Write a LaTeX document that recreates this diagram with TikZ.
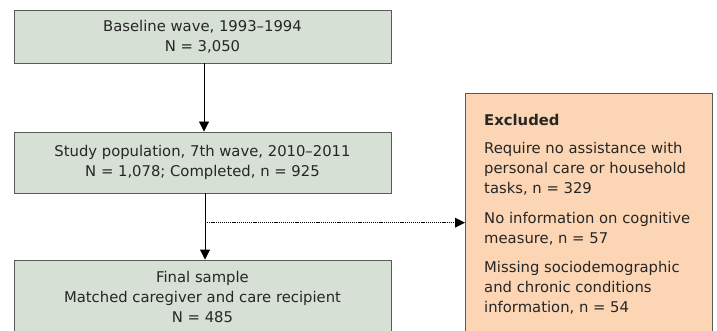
\documentclass[tikz,border=0pt]{standalone}
\usepackage{fontspec}
\setmainfont{DejaVu Sans}
\usetikzlibrary{arrows.meta}
\definecolor{boxgreen}{HTML}{D6E0D5}
\definecolor{boxorange}{HTML}{FCD6B4}
\definecolor{edge}{HTML}{5A5A5A}
\begin{document}
\begin{tikzpicture}[x=1pt,y=-1pt,
  font=\fontsize{14.8}{20}\selectfont,
  gbox/.style={draw=edge,fill=boxgreen,line width=0.9pt,minimum width=377pt,inner sep=0pt,align=center,text=black!85},
  obox/.style={draw=edge,fill=boxorange,line width=0.9pt,minimum width=247pt,minimum height=252pt,inner sep=0pt,anchor=north west},
  conn/.style={line width=0.9pt,-{Triangle[length=10pt,width=10pt]}},
  dconn/.style={line width=1.4pt,dash pattern=on 1.2pt off 0.9pt,-{Triangle[length=10pt,width=10pt,line width=0pt]}}]
\useasboundingbox (0,0) rectangle (717,331);
\clip (0,0) rectangle (717,331);
\fill[white] (0,0) rectangle (717,331);
\node[gbox,minimum height=53pt] (base) at (202.5,36.5) {Baseline wave, 1993–1994\\N = 3,050};
\node[gbox,minimum height=61pt] (study) at (202.5,162.5) {Study population, 7th wave, 2010–2011\\N = 1,078; Completed, n = 925};
\node[gbox,minimum height=74pt] (final) at (202.5,297) {Final sample\\Matched caregiver and care recipient\\N = 485};
\node[obox] (excl) at (465,93) {};
\node[anchor=north west,align=left,inner sep=0pt,text=black!85] (excltext) at (484,114) {\textbf{Excluded}\\[8pt]
Require no assistance with\\personal care or household\\tasks, n = 329\\[10pt]
No information on cognitive\\measure, n = 57\\[9pt]
Missing sociodemographic\\and chronic conditions\\information, n = 54};
\draw[conn] (base.south -| 204,0) -- (study.north -| 204,0);
\draw[conn] (study.south -| 205,0) -- (final.north -| 205,0);
\coordinate (split) at (205,222.7);
\draw[dconn] (split) -- (split -| excl.west);
\end{tikzpicture}
\end{document}
